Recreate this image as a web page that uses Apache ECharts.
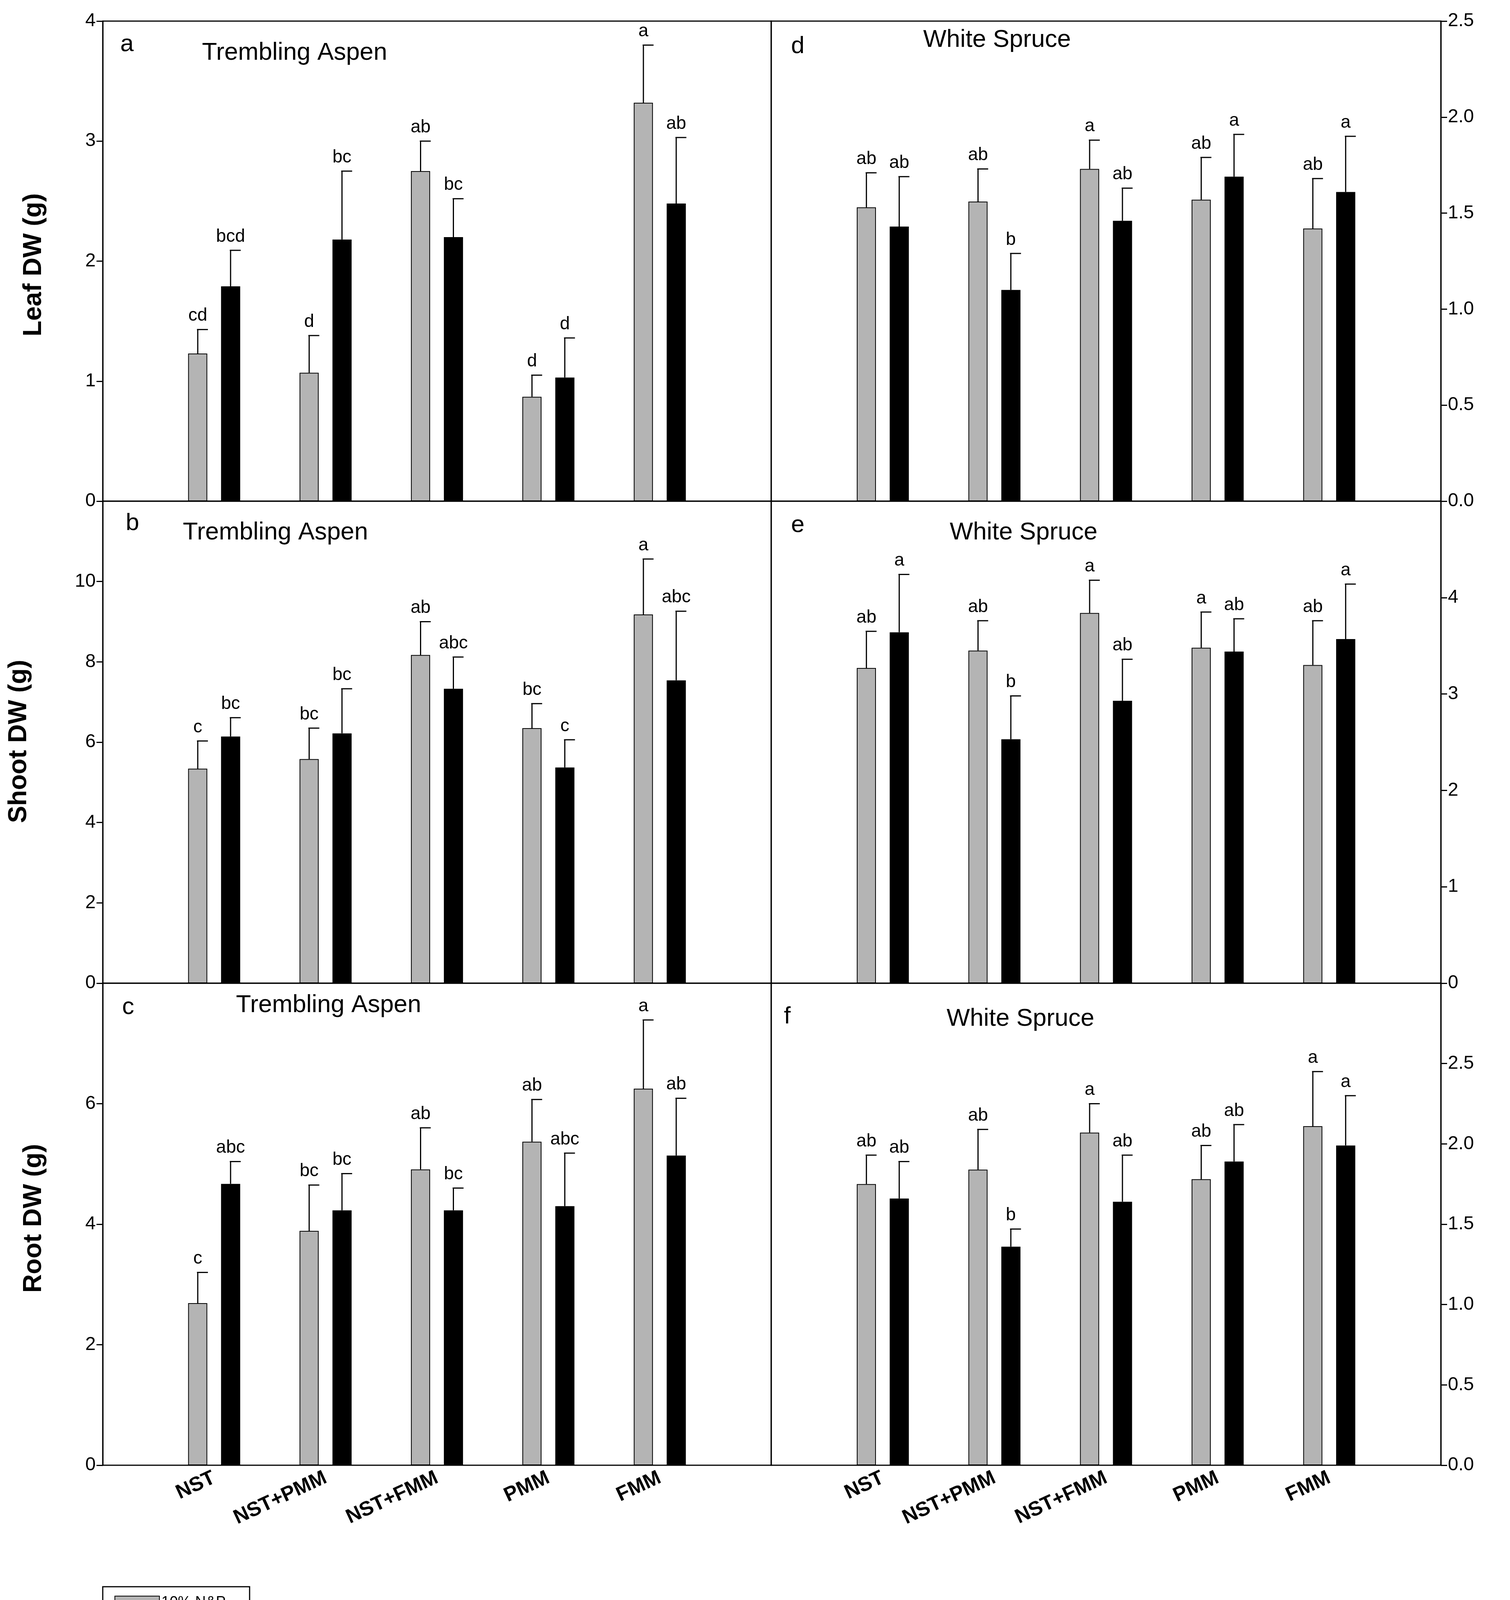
<!DOCTYPE html>
<html><head><meta charset="utf-8">
<script src="https://cdn.jsdelivr.net/npm/echarts@6/dist/echarts.min.js"></script>
<style>html,body{margin:0;padding:0;background:#fff}#c{width:3865px;height:4261px}</style>
</head><body><div id="c"></div>
<script>
const categories = ['NST','NST+PMM','NST+FMM','PMM','FMM'];
// panel a: Leaf, Trembling Aspen
const aLowMean=[1.23,1.07,2.75,0.87,3.32], aLowTop=[1.43,1.38,3.0,1.05,3.8], aLowLab=['cd','d','ab','d','a'];
const aHighMean=[1.79,2.18,2.2,1.03,2.48], aHighTop=[2.09,2.75,2.52,1.36,3.03], aHighLab=['bcd','bc','bc','d','ab'];
// panel b: Shoot, Trembling Aspen
const bLowMean=[5.34,5.58,8.17,6.35,9.18], bLowTop=[6.03,6.35,9.0,6.96,10.56], bLowLab=['c','bc','ab','bc','a'];
const bHighMean=[6.14,6.22,7.33,5.37,7.54], bHighTop=[6.61,7.33,8.12,6.06,9.26], bHighLab=['bc','bc','abc','c','abc'];
// panel c: Root, Trembling Aspen
const cLowMean=[2.69,3.89,4.91,5.37,6.25], cLowTop=[3.2,4.65,5.6,6.07,7.39], cLowLab=['c','bc','ab','ab','a'];
const cHighMean=[4.67,4.23,4.23,4.3,5.14], cHighTop=[5.04,4.84,4.6,5.18,6.09], cHighLab=['abc','bc','bc','abc','ab'];
// panel d: Leaf, White Spruce
const dLowMean=[1.53,1.56,1.73,1.57,1.42], dLowTop=[1.71,1.73,1.88,1.79,1.68], dLowLab=['ab','ab','a','ab','ab'];
const dHighMean=[1.43,1.10,1.46,1.69,1.61], dHighTop=[1.69,1.29,1.63,1.91,1.90], dHighLab=['ab','b','ab','a','a'];
// panel e: Shoot, White Spruce
const eLowMean=[3.27,3.45,3.84,3.48,3.30], eLowTop=[3.65,3.76,4.18,3.85,3.76], eLowLab=['ab','ab','a','a','ab'];
const eHighMean=[3.64,2.53,2.93,3.44,3.57], eHighTop=[4.24,2.98,3.36,3.78,4.14], eHighLab=['a','b','ab','ab','a'];
// panel f: Root, White Spruce
const fLowMean=[1.75,1.84,2.07,1.78,2.11], fLowTop=[1.93,2.09,2.25,1.99,2.45], fLowLab=['ab','ab','a','ab','a'];
const fHighMean=[1.66,1.36,1.64,1.89,1.99], fHighTop=[1.89,1.47,1.93,2.12,2.30], fHighLab=['ab','b','ab','ab','a'];

const chart = echarts.init(document.getElementById('c'));
const FONT='Liberation Sans, Arial, sans-serif';
const cats=['',...categories,''];
const grids=[
 {left:263,top:54,width:1711,height:1229},
 {left:263,top:1283,width:1711,height:1234},
 {left:263,top:2517,width:1711,height:1234},
 {left:1974,top:54,width:1714,height:1229},
 {left:1974,top:1283,width:1714,height:1234},
 {left:1974,top:2517,width:1714,height:1234}
].map(g=>Object.assign(g,{show:true,borderColor:'#000',borderWidth:3,backgroundColor:'transparent'}));
const yCfg=[[0,4,1,'left'],[0,12,2,'left'],[0,8,2,'left'],[0,2.5,0.5,'right'],[0,5,1,'right'],[0,3,0.5,'right']];
const decimals=[0,0,0,1,0,1];
const xAxis=grids.map((g,i)=>({type:'category',gridIndex:i,data:cats,boundaryGap:false,
 axisLine:{show:false},axisTick:{show:false},splitLine:{show:false},
 axisLabel:{show:(i===2||i===5),rotate:25,margin:30,fontSize:52,fontWeight:'bold',fontFamily:FONT,color:'#000',interval:0}}));
const yAxis=yCfg.map((c,i)=>({type:'value',gridIndex:i,min:c[0],max:c[1],interval:c[2],position:c[3],
 axisLine:{show:true,lineStyle:{color:'#000',width:3}},axisTick:{show:true,length:16,lineStyle:{color:'#000',width:3}},
 splitLine:{show:false},
 axisLabel:{fontSize:48,fontFamily:FONT,color:'#000',margin:18,
  formatter:v=>(Math.abs(v-c[1])<1e-9 && i!==0 && i!==3)?'':v.toFixed(decimals[i])}}));
const panels=[
 [aLowMean,aLowTop,aLowLab,aHighMean,aHighTop,aHighLab],
 [bLowMean,bLowTop,bLowLab,bHighMean,bHighTop,bHighLab],
 [cLowMean,cLowTop,cLowLab,cHighMean,cHighTop,cHighLab],
 [dLowMean,dLowTop,dLowLab,dHighMean,dHighTop,dHighLab],
 [eLowMean,eLowTop,eLowLab,eHighMean,eHighTop,eHighLab],
 [fLowMean,fLowTop,fLowLab,fHighMean,fHighTop,fHighLab]];
const series=[];
function errSeries(i,mean,top,lab,off){
 return {type:'custom',xAxisIndex:i,yAxisIndex:i,z:5,silent:true,
  data:mean.map((m,k)=>[k+1,m,top[k],lab[k]]),
  renderItem:(params,api)=>{
   const p0=api.coord([api.value(0),api.value(1)]);
   const p1=api.coord([api.value(0),api.value(2)]);
   const x=p0[0]+off;
   return {type:'group',children:[
    {type:'line',shape:{x1:x,y1:p0[1],x2:x,y2:p1[1]},style:{stroke:'#000',lineWidth:3}},
    {type:'line',shape:{x1:x-2,y1:p1[1],x2:x+26,y2:p1[1]},style:{stroke:'#000',lineWidth:3}},
    {type:'text',x:x,y:p1[1]-12,style:{text:lab[params.dataIndex],fontSize:46,fontFamily:FONT,fill:'#000',align:'center',verticalAlign:'bottom'}}
   ]};
  }};
}
panels.forEach((p,i)=>{
 series.push({type:'bar',name:'10% N&P',xAxisIndex:i,yAxisIndex:i,barWidth:49,barGap:'72%',
  data:['-',...p[0],'-'],itemStyle:{color:'#b4b4b4',borderColor:'#000',borderWidth:2}});
 series.push({type:'bar',name:'100% N&P',xAxisIndex:i,yAxisIndex:i,barWidth:49,barGap:'72%',
  data:['-',...p[3],'-'],itemStyle:{color:'#000',borderColor:'#000',borderWidth:2}});
 series.push(errSeries(i,p[0],p[1],p[2],-42));
 series.push(errSeries(i,p[3],p[4],p[5],42));
});
const T=(x,y,t,fs,extra)=>Object.assign({type:'text',x,y,style:{text:t,fontSize:fs,fontFamily:FONT,fill:'#000',align:'center',verticalAlign:'middle'}},extra||{});
const rot=(x,y,t)=>({type:'text',x,y,rotation:Math.PI/2,style:{text:t,fontSize:66,fontWeight:'bold',fontFamily:FONT,fill:'#000',align:'center',verticalAlign:'middle'}});
chart.setOption({
 animation:false,
 grid:grids,xAxis,yAxis,series,
 legend:{data:['10% N&P','100% N&P'],orient:'vertical',left:263,top:4062,itemWidth:114,itemHeight:34,itemGap:14,
  padding:[22,40,22,30],borderColor:'#000',borderWidth:3,
  textStyle:{fontSize:38,fontFamily:FONT,color:'#000'},icon:'rect'},
 graphic:[
  T(325,114,'a',62),T(754,136,'Trembling Aspen',63),
  T(339,1340,'b',62),T(705,1364,'Trembling Aspen',63),
  T(328,2579,'c',62),T(841,2574,'Trembling Aspen',63),
  T(2042,119,'d',62),T(2552,103,'White Spruce',63),
  T(2042,1345,'e',62),T(2620,1364,'White Spruce',63),
  T(2015,2603,'f',62),T(2612,2609,'White Spruce',63),
  rot(87,678,'Leaf DW (g)'),rot(49,1898,'Shoot DW (g)'),rot(87,3119,'Root DW (g)')
 ]
});
</script></body></html>
